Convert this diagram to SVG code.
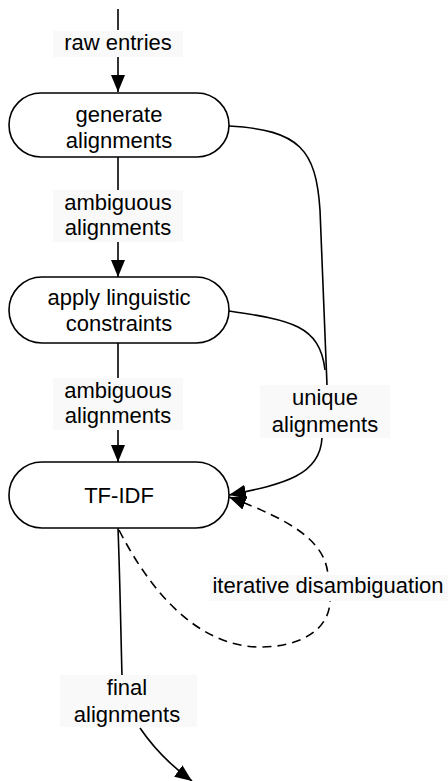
<svg xmlns="http://www.w3.org/2000/svg" width="448" height="781" viewBox="0 0 448 781">
<defs>
<marker id="ah" markerUnits="userSpaceOnUse" markerWidth="18" markerHeight="16" refX="17" refY="7" orient="auto" viewBox="0 0 18 16">
<path d="M0,0 L17,7 L0,14 z" fill="#000"/>
</marker>
<style>
.node rect{fill:#fff;stroke:#000;stroke-width:1.6}
text{font-family:"Liberation Sans",Arial,Helvetica,sans-serif;font-size:22px;fill:#000;text-anchor:middle}
.c{fill:none;stroke:#000;stroke-width:1.6}
.d{stroke-dasharray:9,6}
.lb{fill:#f9f9f9;stroke:none}
</style>
</defs>
<rect width="448" height="781" fill="#fff"/>
<g id="connectors">
<path class="c" d="M118,9 L118,30"/>
<path class="c" d="M118,56 L118,92" marker-end="url(#ah)"/>
<path class="c" d="M118,157 L118,192"/>
<path class="c" d="M118,240 L118,277" marker-end="url(#ah)"/>
<path class="c" d="M118,343 L118,380"/>
<path class="c" d="M118,428 L118,462" marker-end="url(#ah)"/>
<path class="c" d="M229,126 C 300,130 316,150 320,210 L 327,385"/>
<path class="c" d="M229,311 C 290,320 320,325 325,370"/>
<path class="c" d="M322,438 C 320,475 285,484 229,495" marker-end="url(#ah)"/>
<path class="c d" d="M119,530 C 160,610 210,647 260,647 C 300,647 330,630 330,600 L 328,575 C 325,540 290,520 229,497" marker-end="url(#ah)"/>
<path class="c" d="M118,528 C 120,580 121,640 122,676"/>
<path class="c" d="M140,728 C 155,750 170,765 192,781" marker-end="url(#ah)"/>
</g>
<g id="labels">
<rect class="lb" x="53" y="31" width="130" height="26"/>
<text x="118" y="50">raw entries</text>
<rect class="lb" x="53" y="190" width="130" height="52"/>
<text x="118" y="210">ambiguous</text>
<text x="118" y="235">alignments</text>
<rect class="lb" x="53" y="378" width="130" height="52"/>
<text x="118" y="398">ambiguous</text>
<text x="118" y="423">alignments</text>
<rect class="lb" x="260" y="385" width="130" height="53"/>
<text x="325" y="405">unique</text>
<text x="325" y="432">alignments</text>
<rect class="lb" x="210" y="575" width="238" height="26"/>
<text x="328" y="593">iterative disambiguation</text>
<rect class="lb" x="60" y="675" width="137" height="52"/>
<text x="127" y="695">final</text>
<text x="127" y="722">alignments</text>
</g>
<g id="n1" class="node">
<rect x="9" y="93" width="220" height="64" rx="32"/>
<text x="119" y="122">generate</text>
<text x="119" y="148">alignments</text>
</g>
<g id="n2" class="node">
<rect x="9" y="277" width="220" height="66" rx="33"/>
<text x="119" y="305">apply linguistic</text>
<text x="119" y="331">constraints</text>
</g>
<g id="n3" class="node">
<rect x="9" y="462" width="220" height="66" rx="33"/>
<text x="119" y="503">TF-IDF</text>
</g>
</svg>
